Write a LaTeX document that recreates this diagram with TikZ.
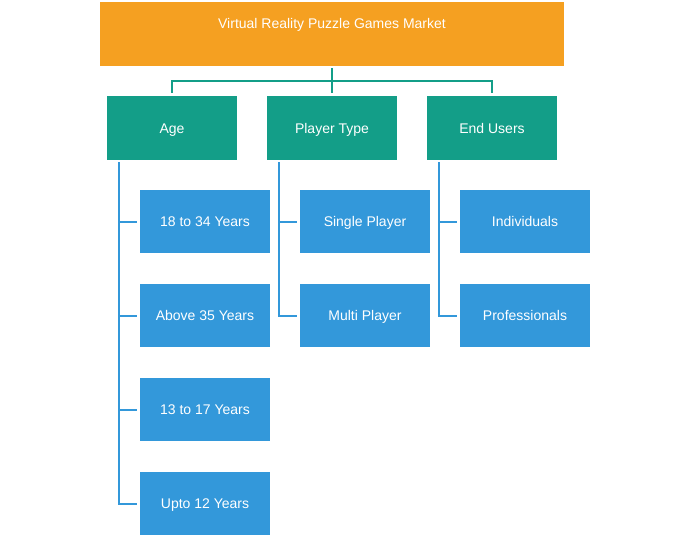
\documentclass[tikz,border=0pt]{standalone}
\usepackage{fontspec}
\setmainfont{Liberation Sans}
\usetikzlibrary{calc}
\definecolor{orangec}{HTML}{F5A021}
\definecolor{tealc}{HTML}{139E88}
\definecolor{bluec}{HTML}{3398DA}
\tikzset{
  base/.style={rectangle, inner sep=0pt, text=white, font=\fontsize{14}{16}\selectfont, text height=10pt, text depth=0pt},
  rootbox/.style={base, fill=orangec, minimum width=464pt, minimum height=64pt, text height=10pt, text depth=22pt},
  catbox/.style={base, fill=tealc, minimum width=130pt, minimum height=64pt},
  leafbox/.style={base, fill=bluec, minimum width=130pt, minimum height=63pt},
  tealline/.style={draw=tealc, line width=2pt},
  blueline/.style={draw=bluec, line width=2pt},
}
\begin{document}
\begin{tikzpicture}[x=1pt,y=1pt]
\useasboundingbox (0,0) rectangle (690,-538);
\node[rootbox] (root) at (332,-34) {Virtual Reality Puzzle Games Market};
\node[catbox] (age) at (172,-128) {Age};
\node[catbox] (ptype) at (332,-128) {Player Type};
\node[catbox] (users) at (492,-128) {End Users};
\node[leafbox] (a1) at (205,-221.5) {18 to 34 Years};
\node[leafbox] (a2) at (205,-315.5) {Above 35 Years};
\node[leafbox] (a3) at (205,-409.5) {13 to 17 Years};
\node[leafbox] (a4) at (205,-503.5) {Upto 12 Years};
\node[leafbox] (p1) at (365,-221.5) {Single Player};
\node[leafbox] (p2) at (365,-315.5) {Multi Player};
\node[leafbox] (u1) at (525,-221.5) {Individuals};
\node[leafbox] (u2) at (525,-315.5) {Professionals};
\coordinate (hub) at ($(root.south)+(0,-15)$);
\draw[tealline] ([yshift=-2pt]root.south) -- ([yshift=3pt]ptype.north);
\draw[tealline] ([yshift=3pt]age.north) -- (age.north |- hub) -- (users.north |- hub) -- ([yshift=3pt]users.north);
\foreach \c in {a1,a2,a3,a4}
  \draw[blueline] ([xshift=12pt,yshift=-2pt]age.south west) |- ([xshift=-3pt]\c.west);
\foreach \c in {p1,p2}
  \draw[blueline] ([xshift=12pt,yshift=-2pt]ptype.south west) |- ([xshift=-3pt]\c.west);
\foreach \c in {u1,u2}
  \draw[blueline] ([xshift=12pt,yshift=-2pt]users.south west) |- ([xshift=-3pt]\c.west);
\end{tikzpicture}
\end{document}
